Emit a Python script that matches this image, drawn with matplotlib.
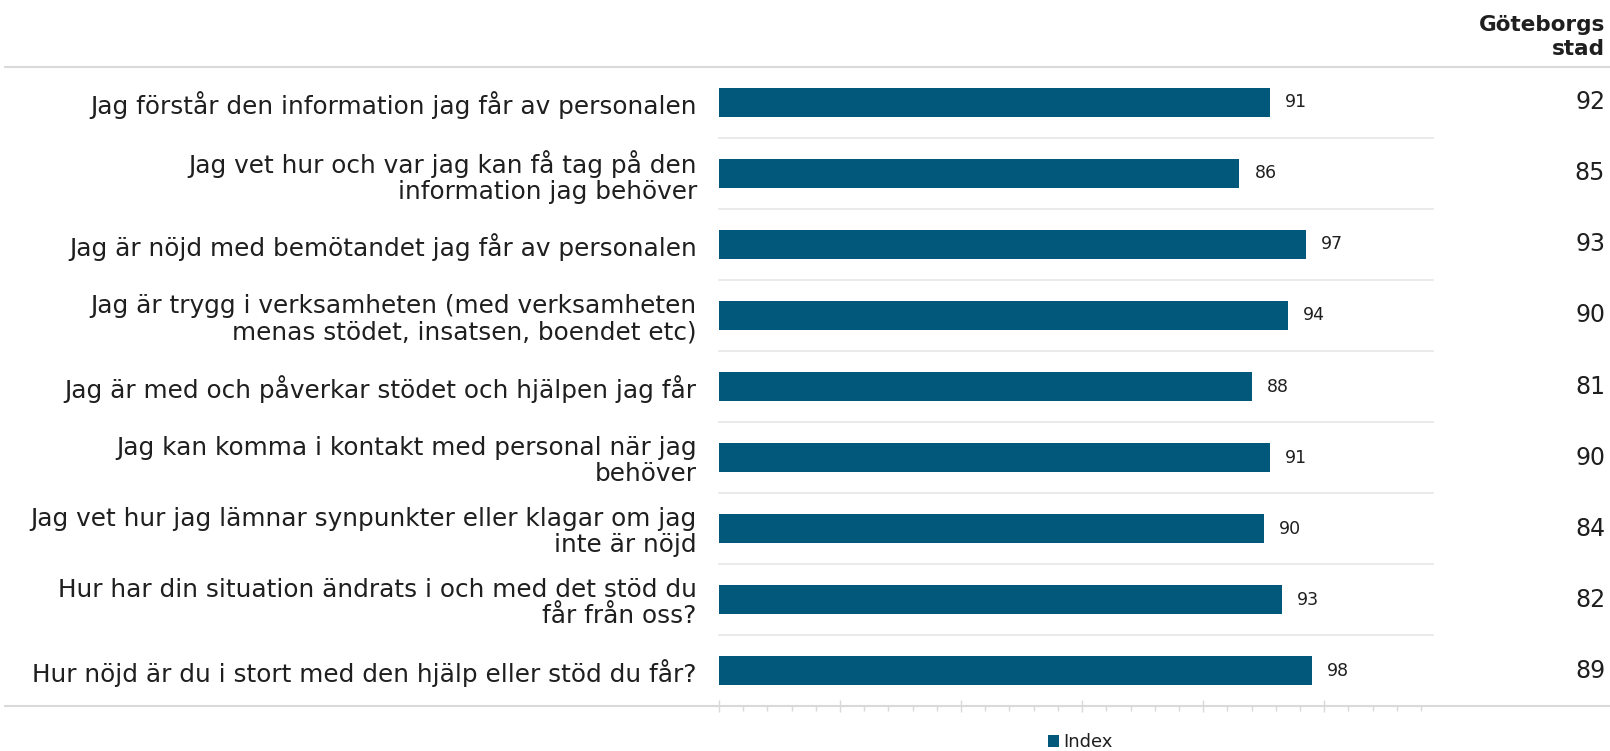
import matplotlib.pyplot as plt
from matplotlib.lines import Line2D
from matplotlib.ticker import MultipleLocator
from matplotlib.transforms import blended_transform_factory

# Survey questions (top to bottom)
questions = [
    "Jag förstår den information jag får av personalen",
    "Jag vet hur och var jag kan få tag på den\ninformation jag behöver",
    "Jag är nöjd med bemötandet jag får av personalen",
    "Jag är trygg i verksamheten (med verksamheten\nmenas stödet, insatsen, boendet etc)",
    "Jag är med och påverkar stödet och hjälpen jag får",
    "Jag kan komma i kontakt med personal när jag\nbehöver",
    "Jag vet hur jag lämnar synpunkter eller klagar om jag\ninte är nöjd",
    "Hur har din situation ändrats i och med det stöd du\nfår från oss?",
    "Hur nöjd är du i stort med den hjälp eller stöd du får?",
]
index_values = [91, 86, 97, 94, 88, 91, 90, 93, 98]
goteborg_values = [92, 85, 93, 90, 81, 90, 84, 82, 89]
series_name = "Index"
column_header = "Göteborgs\nstad"

BAR_COLOR = "#02587a"
LINE_COLOR = "#d9d9d9"
TEXT_COLOR = "#1f1f1f"

plt.rcParams["font.family"] = ["DejaVu Sans"]

fig = plt.figure(figsize=(16.1, 7.51), dpi=100)
ax = fig.add_axes([0.4466, 0.0599, 0.8826 - 0.4466, 0.9108 - 0.0599])

rows = list(range(len(questions)))
ax.barh(rows, index_values, height=0.41, color=BAR_COLOR, label=series_name, zorder=3)

# value labels next to each bar
for y, v in zip(rows, index_values):
    ax.annotate(str(v), (v, y), xytext=(11, 0), textcoords="offset points",
                ha="left", va="center", fontsize=12.5, color=TEXT_COLOR)

ax.set_xlim(0, 116)
ax.set_ylim(len(questions) - 0.5, -0.5)

# question labels
ax.set_yticks(rows)
ax.set_yticklabels(questions, fontsize=17.8, color=TEXT_COLOR, linespacing=1.12)
ax.tick_params(axis="y", length=0, pad=16)

# x axis ticks only, no labels
ax.xaxis.set_major_locator(MultipleLocator(20))
ax.xaxis.set_minor_locator(MultipleLocator(4))
ax.tick_params(axis="x", which="major", direction="inout", length=8.5, width=1,
               color=LINE_COLOR, labelbottom=False)
ax.tick_params(axis="x", which="minor", direction="out", length=3.6, width=1,
               color=LINE_COLOR)

for spine in ax.spines.values():
    spine.set_visible(False)

# light separators between rows
sep_trans = blended_transform_factory(ax.transAxes, ax.transData)
for y in rows[:-1]:
    ax.plot([0, 1.017], [y + 0.5, y + 0.5], transform=sep_trans,
            color="#e6e6e6", lw=1.2, clip_on=False, zorder=1)

# full width lines at top and bottom
for yf in (0.9108, 0.0599):
    fig.add_artist(Line2D([5 / 1610, 1], [yf, yf], transform=fig.transFigure,
                          color=LINE_COLOR, lw=1.5))

# right column with Göteborgs stad values
trans = blended_transform_factory(fig.transFigure, ax.transData)
for y, v in zip(rows, goteborg_values):
    ax.text(1605 / 1610, y, str(v), transform=trans, ha="right", va="center",
            fontsize=17, color=TEXT_COLOR, clip_on=False)

fig.text(1605 / 1610, 1 - 37 / 751, column_header, ha="right", va="center",
         fontsize=15.5, fontweight="bold", color=TEXT_COLOR, linespacing=1.3)

ax.legend(loc="center", bbox_to_anchor=(1080 / 1610, 1 - 742 / 751),
          bbox_transform=fig.transFigure, frameon=False, fontsize=13,
          handlelength=0.65, handleheight=0.65, handletextpad=0.2,
          labelcolor=TEXT_COLOR)

fig.savefig("out.png", dpi=100)
